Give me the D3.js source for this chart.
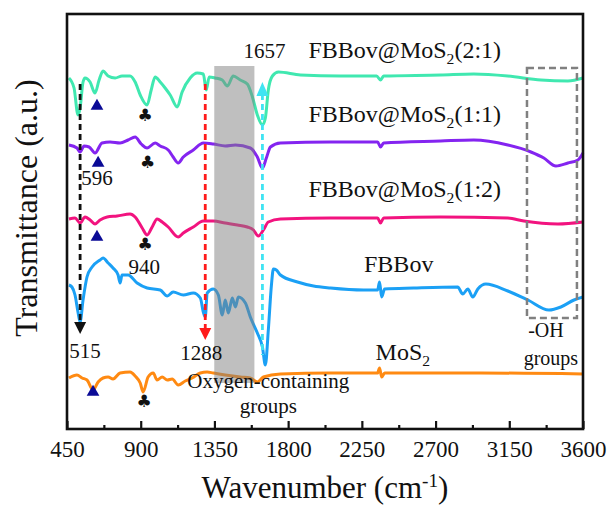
<!DOCTYPE html>
<html>
<head>
<meta charset="utf-8">
<script src="https://cdn.jsdelivr.net/npm/d3@7"></script>
<style>
  html, body { margin: 0; padding: 0; background: #fff; }
  svg { display: block; }
  text { font-family: "Liberation Serif", "Times New Roman", serif; fill: #111; }
</style>
</head>
<body>
<svg id="chart" width="608" height="508"></svg>
<script>
// ---------------- data (wavenumber cm-1, transmittance a.u. with stacking offset) ----------------
const tickLabels = [450, 900, 1350, 1800, 2250, 2700, 3150, 3600];

const seriesNames = ["FBBov@MoS2(2:1)", "FBBov@MoS2(1:1)", "FBBov@MoS2(1:2)", "FBBov", "MoS2"];
const seriesColors = ["#40E8B0", "#8424F0", "#F2137F", "#1BA0F5", "#FF8A12"];

const wn21 = [462,493,517,530,548,560,591,621,646,670,701,744,786,835,866,897,939,964,988,1019,1049,1080,1123,1153,1202,1245,1282,1300,1318,1355,1398,1429,1465,1508,1551,1582,1612,1643,1661,1679,1704,1741,1875,2120,2340,2364,2383,2731,2933,3141,3343,3508,3600];
const val21 = [351,341,314,321,347,351,347,336,349,358,353,351,353,353,347,334,324,339,352,347,341,334,322,337,351,356,355,339,352,351,349,343,353,349,345,332,314,304,311,339,353,357,354,353,353,349,353,354,355,353,349,348,351];

const wn11 = [462,511,530,554,585,621,664,713,774,823,866,903,939,988,1019,1068,1098,1129,1160,1221,1282,1343,1416,1478,1569,1612,1643,1667,1692,1753,2059,2346,2364,2383,2731,2933,3141,3282,3361,3435,3508,3569,3600];
const val11 = [284,281,277,283,282,276,286,287,286,289,292,285,281,286,283,279,272,266,272,279,286,285,283,284,281,272,261,271,282,286,287,287,282,286,288,289,284,277,271,263,266,269,276];

const wn12 = [462,499,530,560,591,621,652,695,756,835,866,909,939,970,1000,1031,1068,1129,1160,1221,1282,1343,1416,1490,1551,1588,1618,1649,1679,1753,2059,2346,2364,2383,2731,3141,3239,3447,3600];
const val12 = [210,211,206,212,209,205,209,212,213,215,212,201,194,202,210,207,202,192,196,202,208,208,206,204,202,199,193,199,207,210,211,211,206,211,212,211,208,205,207];

const wnFB = [462,480,499,517,530,548,572,603,652,670,701,731,762,774,786,823,878,939,1019,1062,1098,1160,1221,1264,1282,1294,1306,1343,1374,1398,1416,1435,1459,1478,1496,1539,1569,1612,1643,1661,1679,1698,1710,1728,1753,1857,1955,2059,2260,2346,2358,2371,2389,2566,2835,2866,2897,2927,2958,3007,3141,3264,3392,3465,3545,3600];
const valFB = [144,142,134,117,107,129,152,162,169,171,166,161,154,146,154,154,146,141,139,133,137,134,136,131,117,112,136,140,134,114,129,116,131,122,132,126,112,96,82,64,99,144,160,159,154,147,143,141,139,139,147,132,140,141,142,135,140,132,140,145,138,129,119,122,129,132];

const wnMo = [462,511,542,572,609,640,670,701,731,774,835,866,897,915,945,976,1000,1031,1062,1092,1129,1172,1214,1264,1306,1343,1416,1508,1569,1612,1649,1753,2059,2346,2358,2371,2389,2976,3600];
const valMo = [51,54,51,49,39,47,51,52,50,56,57,53,46,37,52,56,49,52,49,50,44,48,51,56,57,56,54,52,51,47,52,55,56,56,61,52,56,56,55];

// annotations
const bandRange = [1349, 1594];          // oxygen-containing groups band (wavenumber)
const bandValues = [46, 363];
const ohRange = [3258, 3563];            // -OH groups box
const ohValues = [111, 361];

const arrowWn = [530, 1294, 1643];        // 515, 1288, 1657 arrows
const arrowColors = ["#111111", "#FF1A1A", "#40E4F2"];
const arrowTop = [345, 345, 347];
const arrowBottom = [95, 89, 74];
const arrowDir = ["down", "down", "up"];

const triWn = [633, 640, 633, 609];
const triVal = [323, 266, 192, 37];
const clubWn = [927, 942, 927, 921];
const clubVal = [314, 267, 185, 28];

const peakLabels = ["1657", "596", "940", "515", "1288"];
const peakLabelWn = [1655, 633, 921, 560, 1270];
const peakLabelVal = [371, 244, 155, 71, 69];

// ---------------- layout ----------------
const svg = d3.select("#chart");
const x = d3.scaleLinear().domain([450, 3600]).range([67, 583]);
const y = d3.scaleLinear().domain([0, 415]).range([429, 14]);

const seriesData = [
  d3.zip(wn21, val21), d3.zip(wn11, val11), d3.zip(wn12, val12),
  d3.zip(wnFB, valFB), d3.zip(wnMo, valMo)
];

const line = d3.line().x(d => x(d[0])).y(d => y(d[1])).curve(d3.curveMonotoneX);

const gLines = svg.append("g");
seriesData.forEach((d, i) => {
  gLines.append("path").attr("d", line(d)).attr("fill", "none")
    .attr("stroke", seriesColors[i]).attr("stroke-width", 3)
    .attr("stroke-linejoin", "round");
});

// gray band drawn over the lines (semi-transparent)
svg.append("rect")
  .attr("x", x(bandRange[0])).attr("width", x(bandRange[1]) - x(bandRange[0]))
  .attr("y", y(bandValues[1])).attr("height", y(bandValues[0]) - y(bandValues[1]))
  .attr("fill", "#808080").attr("opacity", 0.5);

// -OH dashed box
svg.append("rect")
  .attr("x", x(ohRange[0])).attr("width", x(ohRange[1]) - x(ohRange[0]))
  .attr("y", y(ohValues[1])).attr("height", y(ohValues[0]) - y(ohValues[1]))
  .attr("fill", "none").attr("stroke", "#808080").attr("stroke-width", 2.5)
  .attr("stroke-dasharray", "7,4");

// dashed arrows
arrowWn.forEach((w, i) => {
  const ax = x(w);
  const hl = 12, hw = 6;
  if (arrowDir[i] === "down") {
    const tip = y(arrowBottom[i]);
    svg.append("line").attr("x1", ax).attr("x2", ax)
      .attr("y1", y(arrowTop[i])).attr("y2", tip - hl)
      .attr("stroke", arrowColors[i]).attr("stroke-width", 2.8).attr("stroke-dasharray", "6,4");
    svg.append("path").attr("d", `M${ax - hw},${tip - hl}L${ax + hw},${tip - hl}L${ax},${tip}Z`)
      .attr("fill", arrowColors[i]);
  } else {
    const tip = y(arrowTop[i]);
    svg.append("line").attr("x1", ax).attr("x2", ax)
      .attr("y1", tip + hl).attr("y2", y(arrowBottom[i]))
      .attr("stroke", arrowColors[i]).attr("stroke-width", 2.8).attr("stroke-dasharray", "6,4");
    svg.append("path").attr("d", `M${ax - hw},${tip + hl + 2}L${ax + hw},${tip + hl + 2}L${ax},${tip}Z`)
      .attr("fill", arrowColors[i]);
  }
});

// triangles
const tri = d3.symbol().type(d3.symbolTriangle).size(70);
triWn.forEach((w, i) => {
  svg.append("path").attr("d", tri())
    .attr("transform", `translate(${x(w)},${y(triVal[i])})`)
    .attr("fill", "#0A0A96");
});

// clubs
clubWn.forEach((w, i) => {
  svg.append("text").attr("x", x(w)).attr("y", y(clubVal[i]))
    .attr("text-anchor", "middle").attr("dominant-baseline", "central")
    .style("font-family", "'DejaVu Sans', sans-serif").style("font-size", "17px")
    .text("\u2663");
});

// peak labels
peakLabels.forEach((t, i) => {
  svg.append("text").attr("x", x(peakLabelWn[i])).attr("y", y(peakLabelVal[i]))
    .attr("text-anchor", "middle").style("font-size", "21px").text(t);
});

// series labels
function subLabel(xx, yy, anchor, parts, size) {
  const t = svg.append("text").attr("x", xx).attr("y", yy).attr("text-anchor", anchor)
    .style("font-size", size + "px");
  parts.forEach(p => {
    const s = t.append("tspan").text(p[0]);
    if (p[1] === "sub") s.attr("dy", 6).style("font-size", (size * 0.65) + "px");
    else if (p[1] === "back") s.attr("dy", -6);
    else if (p[1] === "sup") s.attr("dy", -11).style("font-size", (size * 0.62) + "px");
    else if (p[1] === "supback") s.attr("dy", 11);
  });
  return t;
}
const labelStartWn = 1924;
subLabel(x(labelStartWn), y(371), "start", [["FBBov@MoS"], ["2", "sub"], ["(2:1)", "back"]], 24);
subLabel(x(labelStartWn), y(307), "start", [["FBBov@MoS"], ["2", "sub"], ["(1:1)", "back"]], 24);
subLabel(x(labelStartWn), y(232), "start", [["FBBov@MoS"], ["2", "sub"], ["(1:2)", "back"]], 24);
subLabel(x(2475), y(157), "middle", [["FBBov"]], 24);
subLabel(x(2334), y(69), "start", [["MoS"], ["2", "sub"]], 24);

// band texts
svg.append("text").attr("x", x(1679)).attr("y", y(41)).attr("text-anchor", "middle")
  .style("font-size", "21px").text("Oxygen-containing");
svg.append("text").attr("x", x(1679)).attr("y", y(16)).attr("text-anchor", "middle")
  .style("font-size", "21px").text("groups");
svg.append("text").attr("x", x(3374)).attr("y", y(92)).attr("text-anchor", "middle")
  .style("font-size", "20px").text("-OH");
svg.append("text").attr("x", x(3404)).attr("y", y(64)).attr("text-anchor", "middle")
  .style("font-size", "20px").text("groups");

// ---------------- axes / frame ----------------
const minorTicks = tickLabels.slice(0, -1).map((v, i) => (v + tickLabels[i + 1]) / 2);
const axisG = svg.append("g").attr("transform", `translate(0,${y(0)})`);
const axis = d3.axisBottom(x).tickValues(tickLabels).tickSize(-8).tickPadding(0).tickFormat(d3.format("d"));
axisG.call(axis);
axisG.select(".domain").remove();
axisG.selectAll(".tick line").attr("stroke", "#111").attr("stroke-width", 2.2);
axisG.selectAll(".tick text").attr("y", 28).attr("dy", 0)
  .style("font-family", "'Liberation Serif', serif").style("font-size", "23px").attr("fill", "#111");
const axisMinor = d3.axisBottom(x).tickValues(minorTicks).tickSize(-4).tickFormat("");
const minorG = svg.append("g").attr("transform", `translate(0,${y(0)})`).call(axisMinor);
minorG.select(".domain").remove();
minorG.selectAll(".tick line").attr("stroke", "#111").attr("stroke-width", 2.2);

svg.append("rect")
  .attr("x", x(450)).attr("y", y(415)).attr("width", x(3600) - x(450)).attr("height", y(0) - y(415))
  .attr("fill", "none").attr("stroke", "#111").attr("stroke-width", 2.6);

// axis titles
subLabel((x(450) + x(3600)) / 2, 498, "middle",
  [["Wavenumber (cm"], ["-1", "sup"], [")", "supback"]], 31);
svg.append("text").attr("transform", "translate(37,208) rotate(-90)")
  .attr("text-anchor", "middle").style("font-size", "32px").text("Transmittance (a.u.)");
</script>
</body>
</html>
